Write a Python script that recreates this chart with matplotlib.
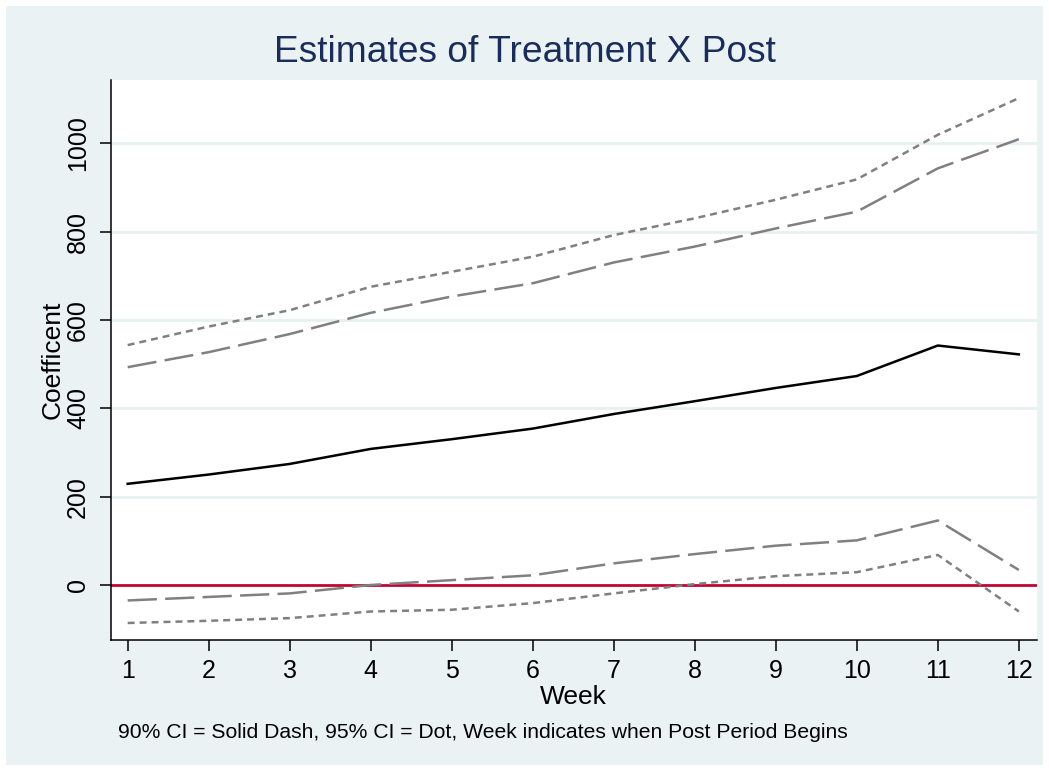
import numpy as np
import matplotlib
matplotlib.use('Agg')
import matplotlib.pyplot as plt
from matplotlib.patches import Rectangle

plt.rcParams['font.family'] = ['Liberation Sans', 'DejaVu Sans']
plt.rcParams['lines.scale_dashes'] = False

weeks = list(range(1, 13))
coef = [229, 250, 274, 308, 330, 354, 387, 416, 446, 473, 542, 522]
lo90 = [-35, -27, -19, 0, 11, 22, 49, 70, 89, 101, 146, 34]
hi90 = [493, 527, 568, 616, 653, 683, 730, 766, 807, 845, 943, 1009]
lo95 = [-86, -81, -75, -60, -56, -41, -19, 2, 20, 29, 68, -60]
hi95 = [543, 585, 622, 675, 709, 743, 792, 830, 872, 918, 1019, 1102]
yticks = [0, 200, 400, 600, 800, 1000]

W, H = 1049, 771
fig = plt.figure(figsize=(W / 100, H / 100), dpi=100, facecolor='white')
fig.patches.append(Rectangle((6 / W, 6 / H), (W - 12) / W, (H - 12) / H,
                             transform=fig.transFigure, facecolor='#eaf2f3',
                             edgecolor='none', zorder=-10))

ax = fig.add_axes([111 / W, 1 - 640 / H, (1036.5 - 111) / W, (640 - 80) / H])
ax.set_zorder(1)
ax.set_facecolor('white')

gray = '#808080'
ax.plot(weeks, hi95, color=gray, lw=1.8, dashes=(5, 3.6))
ax.plot(weeks, lo95, color=gray, lw=1.8, dashes=(5, 3.6))
ax.plot(weeks, hi90, color=gray, lw=1.8, dashes=(21, 6))
ax.plot(weeks, lo90, color=gray, lw=1.8, dashes=(21, 6))
ax.plot(weeks, coef, color='black', lw=1.8)
ax.axhline(0, color='#c10534', lw=2, zorder=1)

ax.set_xlim(0.794, 12.218)
ax.set_ylim(-124.5, 1143)
ax.set_xticks(weeks)
ax.set_yticks(yticks)
ax.set_yticklabels([str(v) for v in yticks], rotation=90, va='center')
for v in yticks[1:]:
    ax.axhline(v, color='#e6eff1', lw=1.8, zorder=0.5)

for s in ['top', 'right']:
    ax.spines[s].set_visible(False)
for s in ['left', 'bottom']:
    ax.spines[s].set_linewidth(1.1)
ax.tick_params(direction='out', length=8, width=1.1, labelsize=18, pad=6)
ax.tick_params(axis='y', pad=7)

ax.set_xlabel('Week', fontsize=19, labelpad=1)
ax.set_ylabel('Coefficent', fontsize=19, labelpad=1)

fig.text(0.5, 1 - 52 / H, 'Estimates of Treatment X Post', ha='center', va='center',
         fontsize=26.7, color='#1a2d5a')
fig.text(118 / W, 1 - 733 / H,
         '90% CI = Solid Dash, 95% CI = Dot, Week indicates when Post Period Begins',
         ha='left', va='center', fontsize=15.2)

fig.savefig('out.png', dpi=100, facecolor='white')
